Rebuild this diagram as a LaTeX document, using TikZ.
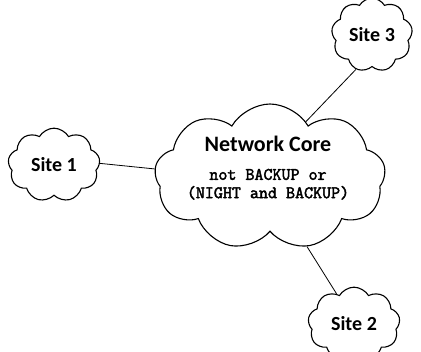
\documentclass[tikz,border=0pt]{standalone}
\usepackage{fontspec}
\setmainfont{Carlito}
\newfontfamily\codefont[AutoFakeBold=2.5]{Latin Modern Mono}
\usetikzlibrary{shapes.symbols}
\newcommand\coreline[1]{{\codefont\bfseries\fontsize{17.5}{19}\selectfont #1}}
\begin{document}
\begin{tikzpicture}[x=1pt,y=1pt,
    cloudbox/.style={draw,line width=1.1pt,shape=cloud,cloud puffs=10,cloud puff arc=120,inner sep=0pt,align=center,font=\bfseries},
    link/.style={draw,line width=0.8pt}]
  \useasboundingbox (0,0) rectangle (421,352);
  % the core and the three sites
  \node[cloudbox,cloud puffs=9,minimum width=231pt,minimum height=146pt] (core) at (270,175) {};
  \node[align=center,inner sep=0pt] (corelabel) at (268,184)
    {{\bfseries\fontsize{22}{26}\selectfont Network Core}\\[16pt]
     \coreline{not BACKUP or}\\[5pt]\coreline{(NIGHT and BACKUP)}};
  \node[cloudbox,cloud puffs=9,minimum width=92pt,minimum height=55pt,font=\bfseries\fontsize{20}{24}\selectfont] (site1) at (54,187) {Site 1};
  \node[cloudbox,cloud puffs=9,minimum width=81pt,minimum height=54pt,font=\bfseries\fontsize{20}{24}\selectfont] (site3) at (372,317) {Site 3};
  \node[cloudbox,cloud puffs=9,minimum width=92pt,minimum height=52pt,font=\bfseries\fontsize{20}{24}\selectfont] (site2) at (354,28) {Site 2};
  % links
  \path[link] (site1.2) -- (core.176);
  \path[link] (site3.245) -- (core.57);
  \path[link] (site2.120) -- (core.298);
\end{tikzpicture}
\end{document}
